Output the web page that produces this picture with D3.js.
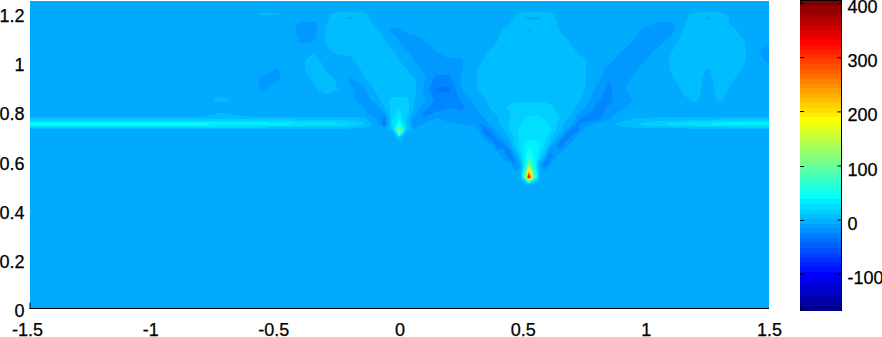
<!DOCTYPE html>
<html>
<head>
<meta charset="utf-8">
<script src="https://cdnjs.cloudflare.com/ajax/libs/d3/7.8.5/d3.min.js"></script>
<style>
  html, body { margin: 0; padding: 0; background: #fff; overflow: hidden; }
  text { font-family: "Liberation Sans", Arial, sans-serif; font-size: 18px; fill: #000; stroke: #000; stroke-width: 0.25px; }
</style>
</head>
<body>
<div id="svg-container"></div>
<script>
// grid columns and rows of the field (not evenly spaced, tighter around the peaks)
var xs = [-1.5,-0.8,-0.74,-0.7,-0.6,-0.56,-0.5,-0.44,-0.4,-0.35,
  -0.3,-0.25,-0.2,-0.15,-0.1,-0.06,-0.03,-0.012,0,0.012,0.03,0.06,
  0.1,0.15,0.2,0.25,0.3,
  0.327,0.35,0.376,0.4,0.424,0.45,0.469,0.49,0.51,0.525,
  0.546,0.57,0.59,0.61,0.631,0.65,0.676,0.7,0.725,0.75,
  0.8,0.85,0.9,0.95,1,
  1.05,1.1,1.15,1.2,1.25,1.3,1.35,1.4,1.45,1.5];
var ys = [1.25,1.213,1.197,1.18,1.16,1.13,1.09,1.05,1.01,0.97,
  0.93,0.89,0.847,0.814,0.786,0.77,0.749,0.729,0.717,0.696,
  0.664,0.623,0.582,0.554,0.533,0.517,0.501,0];

// values, one row per entry of ys
var zRows = [
  [0,0,0,0,0,0,0,0,0,0, 0,0,0,0,0,0,0,0,0,0,0,0, 0,0,0,0,0, 0,0,0,0,0,0,0,0,0,0, 0,0,0,0,0,0,0,0,0,0, 0,0,0,0,0, 0,0,0,0,0,0,0,0,0,0],
  [0,0,0,0,0,0,0,0,0,0, 0,0,0,0,0,0,0,0,0,0,0,0, 0,0,0,0,0, 0,0,0,0,0,0,0,0,0,0, 0,0,0,0,0,0,0,0,0,0, 0,0,0,0,0, 0,0,0,0,0,0,0,0,0,0],
  [0,0,0,0,0,7,7,0,0,0, 2,10,10,10,0,0,0,0,0,0,0,0, 0,0,0,0,0, 0,0,0,0,0,0,3,10,10,10, 10,10,10,10,3,0,0,0,0,0, 0,0,0,0,0, 0,0,0,10,10,10,0,0,0,0],
  [0,0,0,0,0,0,0,0,0,0, 3,10,3,10,0,0,0,0,0,0,0,0, 0,0,0,0,0, 0,0,0,0,0,2,6,10,4,3, 3,3,6,10,6,1,0,0,0,0, 0,0,0,0,0, 0,0,2,10,3,10,3,0,0,0],
  [0,0,0,0,0,0,0,0,-7,-7, 4,10,10,10,3,0,0,0,0,0,0,0, 0,0,0,0,0, 0,0,0,0,1,5,10,10,10,10, 10,10,10,10,7,3,0,0,0,0, 0,0,0,0,0, -7,-7,3,10,10,10,3,0,0,0],
  [0,0,0,0,0,0,0,-2,-10,-10, 6,10,10,10,7,0,-8,-8,-8,-6,-3,0, 0,0,0,0,0, 0,0,0,2,7,10,10,10,6,4, 7,10,10,10,10,5,0,0,0,0, 0,0,0,0,-9, -10,-10,5,10,10,10,8,0,0,0],
  [0,0,0,0,0,0,0,0,-7,-6, 6,10,10,10,10,5,0,-3,-6,-8,-10,-10, -5,0,0,0,0, 0,0,0,5,10,10,10,10,10,10, 10,10,10,10,10,10,7,2,0,0, 0,0,0,-5,-10, -10,-1,8,10,10,10,10,5,0,-3],
  [0,0,0,0,0,0,0,0,0,2, 2,10,10,10,10,10,5,2,0,-2,-5,-10, -10,-4,0,0,0, 0,3,7,10,10,10,10,10,10,10, 10,10,10,10,10,10,10,7,3,0, 0,0,-4,-10,-10, -3,4,10,10,10,10,10,6,-4,-10],
  [0,0,0,0,0,0,0,0,2,10, 0,0,2,10,10,10,10,8,5,2,0,-5, -10,-10,-6,-6,0, 3,7,10,10,10,10,10,10,10,10, 10,10,10,10,10,10,10,10,8,6, 0,-2,-10,-14,-5, 0,6,10,10,10,10,10,6,-2,-7],
  [0,0,0,0,0,0,-6,0,3,10, 5,0,0,6,10,10,10,10,10,8,5,0, -7,-10,-10,-6,3, 7,10,10,10,10,10,10,10,10,10, 10,10,10,10,10,10,10,10,10,6, 0,-8,-16,-7,0, 0,5,10,10,4,10,10,3,0,-2],
  [0,0,0,0,0,-7,-7,0,0,6, 10,3,-7,3,10,10,10,10,10,10,10,6, -3,-20,-20,-3,3, 7,10,10,10,10,10,10,10,10,10, 10,10,10,10,10,10,10,10,9,6, 0,-14,-10,-3,0, 0,3,10,10,1,10,6,0,0,0],
  [0,0,0,0,0,-7,0,0,0,2, 10,5,-3,-10,6,10,10,10,10,10,10,8, -8,-27,-27,-6,2, 6,10,10,10,10,10,10,10,10,10, 10,10,10,10,10,10,10,10,9,6, -8,-18,-7,0,0, 0,0,6,10,0,9,3,0,0,0],
  [0,0,7,6,0,0,0,0,0,0, 0,0,0,-12,-1,10,17,17,17,17,17,5, -3,-18,-20,-14,-3, 1,5,9,10,12,13,13,13,13,13, 13,13,13,13,12,10,10,10,6,2, -13,-18,-8,-5,0, 0,0,3,7,0,7,0,0,0,0],
  [0,0,0,0,0,0,0,0,0,0, 0,0,0,-3,-15,5,21,23,24,22,20,3, -12,-20,-15,-18,-8, -1,2,7,10,14,17,19,20,20,20, 20,20,20,17,15,10,8,7,3,-4, -18,-14,-7,0,0, 0,0,0,0,0,0,0,0,0,0],
  [0,0,7,7,0,0,0,0,0,0, 0,0,0,0,-12,-8,22,28,33,25,17,-5, -18,-10,-10,-10,-10, -6,-3,1,6,10,15,19,21,23,24, 24,24,23,21,17,14,9,5,-6,-12, -22,-9,0,0,0, 0,0,0,0,0,0,0,0,0,0],
  [12,12,12,12,12,12,12,12,12,12, 12,12,10,8,-3,-20,24,32,40,25,12,-15, -12,-4,-8,-8,-8, -7,-5,0,5,10,15,20,23,25,26, 27,27,25,23,19,15,8,2,-10,-22, -18,-6,0,6,7, 8,8,8,10,10,12,12,12,12,12],
  [50,50,47,47,48,48,40,38,35,33, 32,30,26,18,3,-24,25,40,62,35,14,-16, -3,-2,-3,-5,-8, -16,-8,-1,3,10,17,21,24,27,30, 30,30,27,24,17,10,3,-5,-16,-10, -2,2,8,14,20, 25,28,30,35,36,42,46,47,47,48],
  [3,3,3,3,3,3,3,3,3,3, 3,3,3,2,0,-2,15,60,130,60,15,-3, 0,0,0,0,-1, -12,-24,-8,0,5,17,22,27,29,31, 31,31,29,27,18,9,0,-20,-18,-4, 0,1,2,2,2, 2,2,2,3,3,3,3,3,3,3],
  [0,0,0,0,0,0,0,0,0,0, 0,0,0,0,0,0,-3,50,170,50,-3,0, 0,0,0,0,0, -6,-26,-12,-1,3,16,22,28,31,33, 33,32,29,25,15,5,-10,-26,-10,0, 0,0,0,0,0, 0,0,0,0,0,0,0,0,0,0],
  [0,0,0,0,0,0,0,0,0,0, 0,0,0,0,0,0,0,7,8,7,0,0, 0,0,0,0,0, 0,-12,-26,-10,-1,7,18,26,30,33, 33,32,28,19,9,-1,-26,-12,-1,0, 0,0,0,0,0, 0,0,0,0,0,0,0,0,0,0],
  [0,0,0,0,0,0,0,0,0,0, 0,0,0,0,0,0,0,0,0,0,0,0, 0,0,0,0,0, 0,0,-4,-26,-18,2,15,30,36,40, 38,36,24,8,-10,-26,-8,0,0,0, 0,0,0,0,0, 0,0,0,0,0,0,0,0,0,0],
  [0,0,0,0,0,0,0,0,0,0, 0,0,0,0,0,0,0,0,0,0,0,0, 0,0,0,0,0, 0,0,0,0,-10,-28,-2,20,42,60, 45,25,8,-26,-8,0,0,0,0,0, 0,0,0,0,0, 0,0,0,0,0,0,0,0,0,0],
  [0,0,0,0,0,0,0,0,0,0, 0,0,0,0,0,0,0,0,0,0,0,0, 0,0,0,0,0, 0,0,0,0,0,-1,-16,-8,45,120, 50,-5,-22,-6,0,0,0,0,0,0, 0,0,0,0,0, 0,0,0,0,0,0,0,0,0,0],
  [0,0,0,0,0,0,0,0,0,0, 0,0,0,0,0,0,0,0,0,0,0,0, 0,0,0,0,0, 0,0,0,0,0,0,-3,-3,70,235, 75,-3,-3,0,0,0,0,0,0,0, 0,0,0,0,0, 0,0,0,0,0,0,0,0,0,0],
  [0,0,0,0,0,0,0,0,0,0, 0,0,0,0,0,0,0,0,0,0,0,0, 0,0,0,0,0, 0,0,0,0,0,0,0,-4,100,370, 100,-4,0,0,0,0,0,0,0,0, 0,0,0,0,0, 0,0,0,0,0,0,0,0,0,0],
  [0,0,0,0,0,0,0,0,0,0, 0,0,0,0,0,0,0,0,0,0,0,0, 0,0,0,0,0, 0,0,0,0,0,0,0,0,25,110, 25,0,0,0,0,0,0,0,0,0, 0,0,0,0,0, 0,0,0,0,0,0,0,0,0,0],
  [0,0,0,0,0,0,0,0,0,0, 0,0,0,0,0,0,0,0,0,0,0,0, 0,0,0,0,0, 0,0,0,0,0,0,0,0,0,0, 0,0,0,0,0,0,0,0,0,0, 0,0,0,0,0, 0,0,0,0,0,0,0,0,0,0],
  [0,0,0,0,0,0,0,0,0,0, 0,0,0,0,0,0,0,0,0,0,0,0, 0,0,0,0,0, 0,0,0,0,0,0,0,0,0,0, 0,0,0,0,0,0,0,0,0,0, 0,0,0,0,0, 0,0,0,0,0,0,0,0,0,0]
];

var xTicks = [-1.5,-1,-0.5,0,0.5,1,1.5];
var yTicks = [0,0.2,0.4,0.6,0.8,1,1.2];
var colorTicks = [-100,0,100,200,300,400];
var colorMin = -167, colorMax = 404;

var svg = d3.select("#svg-container")
  .append("svg")
  .attr("width", 882)
  .attr("height", 337)
  .style("display", "block");

const x = d3.scaleLinear().domain([-1.5, 1.5]).range([30, 769]);
const y = d3.scaleLinear().domain([0, 1.25]).range([308, 1]);
const yColor = d3.scaleLinear().domain([colorMin, colorMax]).range([310, 1]);

// matlab jet
function jet(t) {
  const c = v => Math.round(255 * Math.max(0, Math.min(1, v)));
  const r = Math.min(4 * t - 1.5, -4 * t + 4.5);
  const g = Math.min(4 * t - 0.5, -4 * t + 3.5);
  const b = Math.min(4 * t + 0.5, -4 * t + 2.5);
  return "rgb(" + c(r) + "," + c(g) + "," + c(b) + ")";
}
const colorT = d3.scaleLinear().domain([colorMin, colorMax]).range([0, 1]);

// contour bands
var nx = xs.length, ny = ys.length;
var flat = [];
zRows.forEach(row => row.forEach(v => flat.push(v)));
var thresholds = d3.range(-35, 400, 10);
var bands = d3.contours().size([nx, ny]).smooth(true).thresholds(thresholds)(flat);

// contour output is in grid index units with point i at i + 0.5
const indexX = d3.scaleLinear().domain(d3.range(nx)).range(xs).clamp(true);
const indexY = d3.scaleLinear().domain(d3.range(ny)).range(ys).clamp(true);
const path = d3.geoPath(d3.geoTransform({
  point: function(px, py) {
    this.stream.point(x(indexX(px - 0.5)), y(indexY(py - 0.5)));
  }
}));

svg.append("g")
  .attr("shape-rendering", "crispEdges")
  .selectAll("path")
  .data(bands)
  .enter().append("path")
  .attr("d", path)
  .attr("fill", d => jet(colorT(d.value + 5)));

// axes, the image hides all ticks but the ones in the corner
const xAxis = d3.axisBottom(x).tickValues(xTicks).tickFormat(d => String(d)).tickSize(-6).tickPadding(15);
const yAxis = d3.axisLeft(y).tickValues(yTicks).tickFormat(d => String(d)).tickSize(-8).tickPadding(5);

var gx = svg.append("g")
  .attr("transform", "translate(0,308.5)")
  .call(xAxis);
gx.select(".domain").attr("d", "M30,0H769").attr("stroke", "#000");
gx.selectAll(".tick").filter(d => d !== -1.5).select("line").remove();
gx.selectAll("line").attr("stroke", "#000").attr("transform", "translate(-0.5,0)");
gx.selectAll("text").attr("dy", "0.71em").attr("dx", d => d < 0 ? -3 : 0);

var gy = svg.append("g")
  .attr("transform", "translate(29.5,0)")
  .call(yAxis);
gy.select(".domain").remove();
gy.selectAll(".tick").filter(d => d !== 0).select("line").remove();
gy.selectAll("line").attr("stroke", "#000");
gy.selectAll("text").attr("dy", "0.47em");

// colorbar
var nColors = 64;
var colorSteps = d3.range(nColors);
var colorbar = svg.append("g");
colorbar.append("g")
  .attr("shape-rendering", "crispEdges")
  .selectAll("rect")
  .data(colorSteps)
  .enter().append("rect")
  .attr("x", 800)
  .attr("width", 42)
  .attr("y", d => yColor(colorMin + (d + 1) / nColors * (colorMax - colorMin)))
  .attr("height", d => yColor(colorMin + d / nColors * (colorMax - colorMin)) - yColor(colorMin + (d + 1) / nColors * (colorMax - colorMin)) + 0.5)
  .attr("fill", d => jet((d + 1) / nColors));

const colorAxis = d3.axisRight(yColor).tickValues(colorTicks).tickFormat(d => String(d)).tickSize(-4).tickPadding(10);
var gc = colorbar.append("g")
  .attr("transform", "translate(841.5,0)")
  .call(colorAxis);
gc.select(".domain").attr("d", "M0,0.5V310.5").attr("stroke", "#000");
gc.selectAll("line").attr("stroke", "#000");
gc.selectAll("text").attr("dy", "0.53em").attr("x", 6);

// left side ticks of the bar and the tiny end ticks
colorbar.append("g")
  .selectAll("line")
  .data(colorTicks)
  .enter().append("line")
  .attr("x1", 800).attr("x2", 804)
  .attr("y1", d => Math.round(yColor(d)) + 0.5)
  .attr("y2", d => Math.round(yColor(d)) + 0.5)
  .attr("stroke", "#000");
[800.5, 841.5].forEach(bx => {
  colorbar.append("line").attr("x1", bx).attr("x2", bx).attr("y1", 307).attr("y2", 311).attr("stroke", "#000");
  colorbar.append("line").attr("x1", bx).attr("x2", bx).attr("y1", 1).attr("y2", 4).attr("stroke", "#000");
});
colorbar.append("line").attr("x1", 800).attr("x2", 842).attr("y1", 0.5).attr("y2", 0.5).attr("stroke", "#000");
</script>
</body>
</html>
